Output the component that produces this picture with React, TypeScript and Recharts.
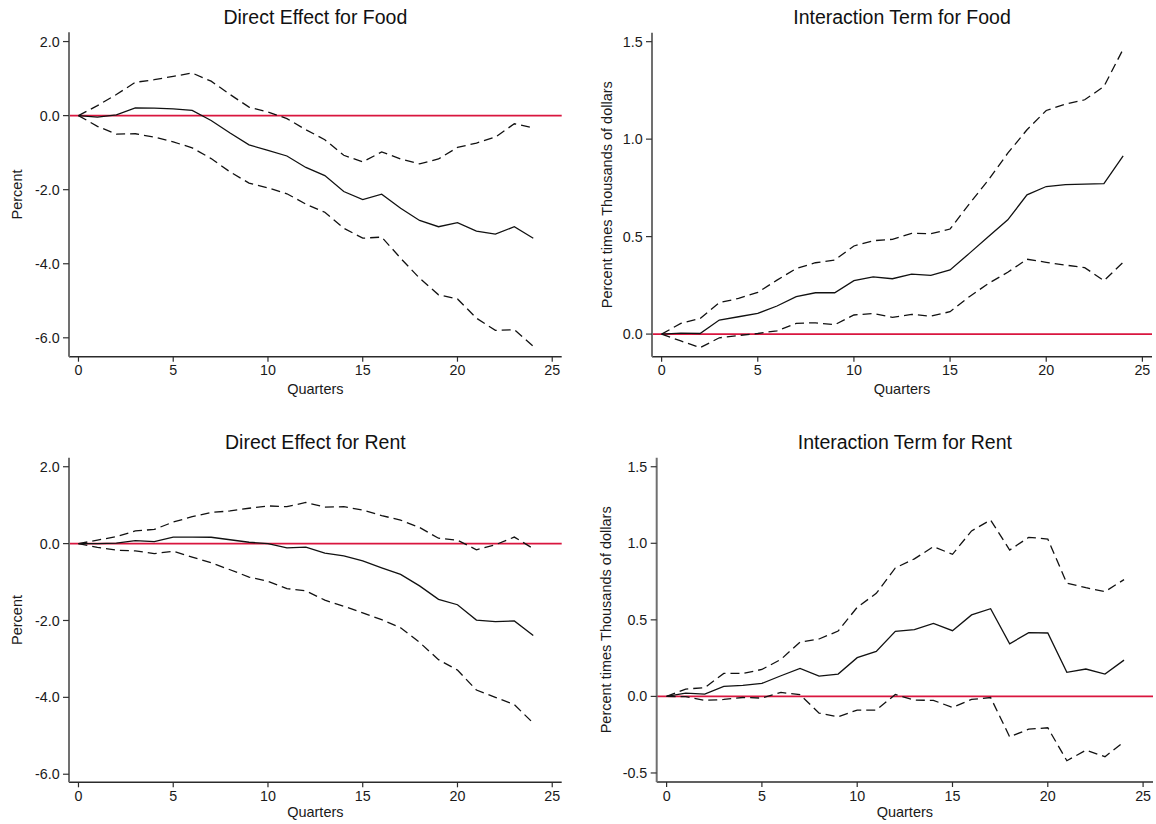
import { LineChart, Line, XAxis, YAxis, ReferenceLine } from "recharts";

const quarters = [0, 1, 2, 3, 4, 5, 6, 7, 8, 9, 10, 11, 12, 13, 14, 15, 16, 17, 18, 19, 20, 21, 22, 23, 24];
const xTicks = [0, 5, 10, 15, 20, 25];

// direct effect for food (percent)
const foodDirect = [0, -0.04, 0.02, 0.21, 0.2, 0.18, 0.14, -0.13, -0.47, -0.79, -0.94, -1.09, -1.4, -1.62, -2.05, -2.27, -2.12, -2.5, -2.83, -3.0, -2.89, -3.12, -3.2, -3.0, -3.31];
const foodDirectUpper = [0, 0.27, 0.57, 0.9, 0.97, 1.06, 1.15, 0.93, 0.57, 0.23, 0.1, -0.08, -0.38, -0.65, -1.07, -1.25, -0.98, -1.17, -1.3, -1.17, -0.86, -0.74, -0.58, -0.22, -0.33];
const foodDirectLower = [0, -0.29, -0.5, -0.49, -0.58, -0.71, -0.87, -1.16, -1.52, -1.82, -1.95, -2.11, -2.39, -2.61, -3.04, -3.31, -3.28, -3.85, -4.39, -4.84, -4.95, -5.47, -5.8, -5.78, -6.23];

// interaction term for food
const foodInter = [0, 0.005, 0.003, 0.072, 0.089, 0.106, 0.144, 0.192, 0.212, 0.212, 0.274, 0.293, 0.284, 0.308, 0.301, 0.329, 0.414, 0.5, 0.586, 0.714, 0.757, 0.767, 0.769, 0.772, 0.914];
const foodInterUpper = [0, 0.055, 0.08, 0.161, 0.183, 0.214, 0.277, 0.336, 0.366, 0.38, 0.452, 0.479, 0.486, 0.517, 0.515, 0.539, 0.668, 0.791, 0.928, 1.048, 1.147, 1.18, 1.202, 1.27, 1.462];
const foodInterLower = [0, -0.035, -0.07, -0.019, -0.007, 0.003, 0.017, 0.055, 0.058, 0.048, 0.098, 0.106, 0.086, 0.101, 0.092, 0.115, 0.192, 0.26, 0.317, 0.384, 0.368, 0.354, 0.341, 0.274, 0.368];

// direct effect for rent (percent)
const rentDirect = [0, 0, 0.01, 0.08, 0.05, 0.17, 0.17, 0.165, 0.1, 0.035, 0, -0.11, -0.09, -0.25, -0.32, -0.45, -0.63, -0.8, -1.1, -1.45, -1.59, -1.99, -2.03, -2.01, -2.39];
const rentDirectUpper = [0, 0.09, 0.18, 0.33, 0.37, 0.56, 0.7, 0.81, 0.85, 0.92, 0.98, 0.96, 1.07, 0.95, 0.96, 0.87, 0.73, 0.61, 0.42, 0.14, 0.09, -0.16, -0.03, 0.17, -0.13];
const rentDirectLower = [0, -0.1, -0.17, -0.19, -0.26, -0.2, -0.35, -0.5, -0.68, -0.87, -0.98, -1.17, -1.23, -1.47, -1.63, -1.8, -1.98, -2.19, -2.57, -3.02, -3.29, -3.81, -4.0, -4.19, -4.67];

// interaction term for rent
const rentInter = [0, 0.022, 0.015, 0.065, 0.072, 0.085, 0.135, 0.183, 0.133, 0.146, 0.253, 0.294, 0.425, 0.436, 0.477, 0.429, 0.532, 0.573, 0.344, 0.416, 0.414, 0.157, 0.179, 0.146, 0.237];
const rentInterUpper = [0, 0.048, 0.057, 0.15, 0.15, 0.176, 0.242, 0.355, 0.375, 0.427, 0.582, 0.673, 0.839, 0.898, 0.978, 0.928, 1.081, 1.152, 0.956, 1.039, 1.028, 0.739, 0.71, 0.684, 0.763];
const rentInterLower = [0, -0.002, -0.026, -0.02, -0.007, -0.011, 0.026, 0.011, -0.109, -0.133, -0.089, -0.089, 0.013, -0.024, -0.026, -0.072, -0.02, -0.007, -0.264, -0.214, -0.205, -0.42, -0.351, -0.394, -0.296];

const pctTicks = [-6, -4, -2, 0, 2];
const interTicksFood = [0, 0.5, 1, 1.5];
const interTicksRent = [-0.5, 0, 0.5, 1, 1.5];

const font = '"Liberation Sans", Arial, Helvetica, sans-serif';
const ink = "#1a1a1a";

function Panel({
  left,
  top,
  width,
  height,
  marginTop,
  marginRight,
  yAxisWidth,
  xAxisHeight,
  xDomain,
  yDomain,
  yTicks,
  title,
  titleTop,
  yLabel,
  yLabelOffset,
  xLabelOffset,
  est,
  hi,
  lo,
}: {
  left: number;
  top: number;
  width: number;
  height: number;
  marginTop: number;
  marginRight: number;
  yAxisWidth: number;
  xAxisHeight: number;
  xDomain: [number, number];
  yDomain: [number, number];
  yTicks: number[];
  title: string;
  titleTop: number;
  yLabel: string;
  yLabelOffset: number;
  xLabelOffset: number;
  est: number[];
  hi: number[];
  lo: number[];
}) {
  const rows = quarters.map((q, i) => ({ q, est: est[i], hi: hi[i], lo: lo[i] }));
  const plotLeft = yAxisWidth;
  const plotWidth = width - marginRight - yAxisWidth;

  return (
    <div style={{ position: "absolute", left, top, width, height }}>
      <div
        style={{
          position: "absolute",
          left: plotLeft,
          width: plotWidth,
          top: titleTop,
          textAlign: "center",
          fontSize: 19.5,
          lineHeight: "19.5px",
          color: "#111",
          whiteSpace: "nowrap",
        }}
      >
        {title}
      </div>
      <LineChart
        width={width}
        height={height}
        data={rows}
        margin={{ top: marginTop, right: marginRight, bottom: 0, left: 0 }}
      >
        <XAxis
          dataKey="q"
          type="number"
          domain={xDomain}
          ticks={xTicks}
          interval={0}
          allowDataOverflow
          height={xAxisHeight}
          tickSize={5}
          tickMargin={3.4}
          stroke="#2b2b2b"
          strokeWidth={1.6}
          tickLine={{ stroke: "#2b2b2b", strokeWidth: 1.2 }}
          tick={{ fontSize: 14.3, fill: ink }}
          label={{ value: "Quarters", position: "insideBottom", offset: xLabelOffset, fontSize: 14.5, fill: ink }}
        />
        <YAxis
          type="number"
          domain={yDomain}
          ticks={yTicks}
          interval={0}
          allowDataOverflow
          width={yAxisWidth}
          tickSize={6}
          tickMargin={3.4}
          stroke="#707070"
          strokeWidth={2}
          tickLine={{ stroke: "#333", strokeWidth: 1.2 }}
          tick={{ fontSize: 14.3, fill: ink }}
          tickFormatter={(v: number) => v.toFixed(1)}
          label={{
            value: yLabel,
            angle: -90,
            position: "insideLeft",
            offset: yLabelOffset,
            fontSize: 14.5,
            fill: ink,
            style: { textAnchor: "middle" },
          }}
        />
        <ReferenceLine y={0} stroke="#d9163f" strokeWidth={1.6} />
        <Line
          type="linear"
          dataKey="hi"
          stroke="#111"
          strokeWidth={1.3}
          strokeDasharray="9 5"
          dot={false}
          activeDot={false}
          isAnimationActive={false}
        />
        <Line
          type="linear"
          dataKey="lo"
          stroke="#111"
          strokeWidth={1.3}
          strokeDasharray="9 5"
          dot={false}
          activeDot={false}
          isAnimationActive={false}
        />
        <Line
          type="linear"
          dataKey="est"
          stroke="#111"
          strokeWidth={1.3}
          dot={false}
          activeDot={false}
          isAnimationActive={false}
        />
      </LineChart>
    </div>
  );
}

export default function App() {
  return (
    <div
      style={{
        position: "absolute",
        left: 0,
        top: 0,
        width: 1156,
        height: 824,
        background: "#fff",
        fontFamily: font,
      }}
    >
      <Panel
        left={0}
        top={0}
        width={580}
        height={410}
        marginTop={32.3}
        marginRight={18.3}
        yAxisWidth={69}
        xAxisHeight={53.3}
        xDomain={[-0.5, 25.5]}
        yDomain={[-6.51, 2.25]}
        yTicks={pctTicks}
        title="Direct Effect for Food"
        titleTop={7.5}
        yLabel="Percent"
        yLabelOffset={17}
        xLabelOffset={16.3}
        est={foodDirect}
        hi={foodDirectUpper}
        lo={foodDirectLower}
      />
      <Panel
        left={590}
        top={0}
        width={566}
        height={410}
        marginTop={32.7}
        marginRight={4}
        yAxisWidth={62}
        xAxisHeight={53.3}
        xDomain={[-0.5, 25.5]}
        yDomain={[-0.116, 1.546]}
        yTicks={interTicksFood}
        title="Interaction Term for Food"
        titleTop={8}
        yLabel="Percent times Thousands of dollars"
        yLabelOffset={16.5}
        xLabelOffset={16.3}
        est={foodInter}
        hi={foodInterUpper}
        lo={foodInterLower}
      />
      <Panel
        left={0}
        top={410}
        width={580}
        height={414}
        marginTop={47.7}
        marginRight={18.3}
        yAxisWidth={69}
        xAxisHeight={41.7}
        xDomain={[-0.5, 25.5]}
        yDomain={[-6.21, 2.235]}
        yTicks={pctTicks}
        title="Direct Effect for Rent"
        titleTop={22.8}
        yLabel="Percent"
        yLabelOffset={17}
        xLabelOffset={7}
        est={rentDirect}
        hi={rentDirectUpper}
        lo={rentDirectLower}
      />
      <Panel
        left={590}
        top={410}
        width={566}
        height={414}
        marginTop={47.7}
        marginRight={3}
        yAxisWidth={66.7}
        xAxisHeight={42}
        xDomain={[-0.52, 25.52]}
        yDomain={[-0.559, 1.559]}
        yTicks={interTicksRent}
        title="Interaction Term for Rent"
        titleTop={22.8}
        yLabel="Percent times Thousands of dollars"
        yLabelOffset={16}
        xLabelOffset={7}
        est={rentInter}
        hi={rentInterUpper}
        lo={rentInterLower}
      />
    </div>
  );
}
